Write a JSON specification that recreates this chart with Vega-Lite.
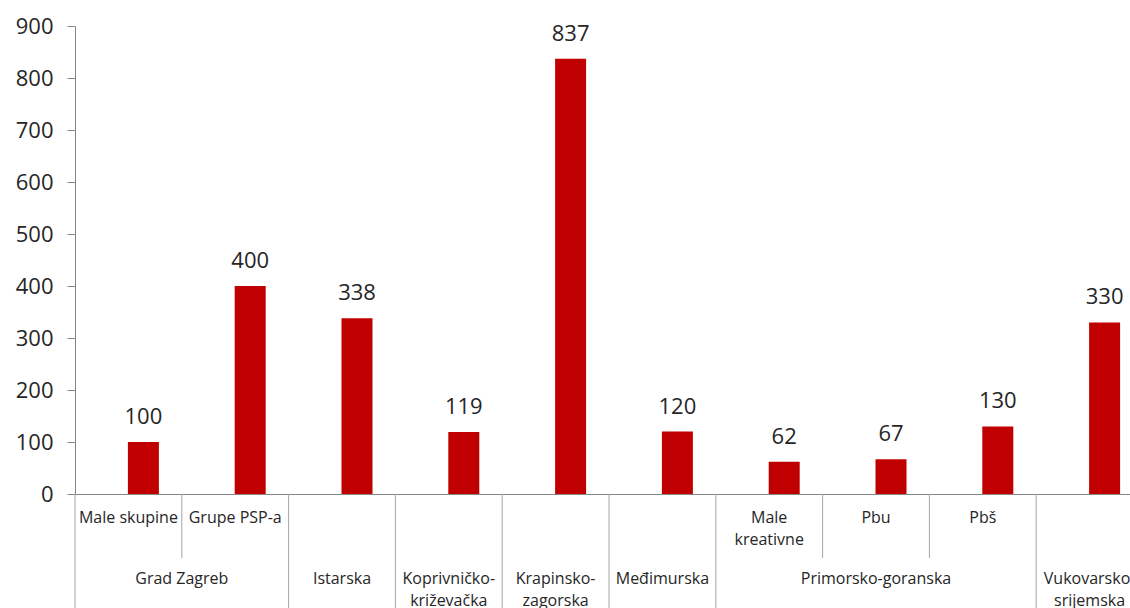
{
  "$schema": "https://vega.github.io/schema/vega-lite/v6.json",
  "autosize": "none",
  "width": 1055,
  "height": 468,
  "padding": {"left": 75, "top": 26, "right": 0, "bottom": 114},
  "background": "white",
  "config": {
    "view": {"stroke": null},
    "font": "Open Sans",
    "text": {"font": "Open Sans"}
  },
  "datasets": {
    "bars": [
      {"k": "Grad Zagreb|Male skupine", "sub": "Male skupine", "value": 100, "edge": "outer"},
      {"k": "Grad Zagreb|Grupe PSP-a", "sub": "Grupe PSP-a", "value": 400, "edge": "inner"},
      {"k": "Istarska", "sub": "", "value": 338, "edge": "outer"},
      {"k": "Koprivničko-križevačka", "sub": "", "value": 119, "edge": "outer"},
      {"k": "Krapinsko-zagorska", "sub": "", "value": 837, "edge": "outer"},
      {"k": "Međimurska", "sub": "", "value": 120, "edge": "outer"},
      {"k": "Primorsko-goranska|Male kreativne", "sub": "Male\nkreativne", "value": 62, "edge": "outer"},
      {"k": "Primorsko-goranska|Pbu", "sub": "Pbu", "value": 67, "edge": "inner"},
      {"k": "Primorsko-goranska|Pbš", "sub": "Pbš", "value": 130, "edge": "inner"},
      {"k": "Vukovarsko-srijemska", "sub": "", "value": 330, "edge": "outer"}
    ],
    "groups": [
      {"group": "Grad Zagreb", "anchor": "Grad Zagreb|Male skupine", "mode": "edge"},
      {"group": "Istarska", "anchor": "Istarska", "mode": "center"},
      {"group": "Koprivničko-\nkriževačka", "anchor": "Koprivničko-križevačka", "mode": "center"},
      {"group": "Krapinsko-\nzagorska", "anchor": "Krapinsko-zagorska", "mode": "center"},
      {"group": "Međimurska", "anchor": "Međimurska", "mode": "center"},
      {"group": "Primorsko-goranska", "anchor": "Primorsko-goranska|Pbu", "mode": "center"},
      {"group": "Vukovarsko-\nsrijemska", "anchor": "Vukovarsko-srijemska", "mode": "center"}
    ]
  },
  "layer": [
    {
      "data": {"name": "bars"},
      "mark": {"type": "bar", "color": "#C00000", "width": 31, "xOffset": 15},
      "encoding": {
        "x": {
          "field": "k", "type": "nominal",
          "scale": {
            "domain": ["Grad Zagreb|Male skupine", "Grad Zagreb|Grupe PSP-a", "Istarska", "Koprivničko-križevačka", "Krapinsko-zagorska", "Međimurska", "Primorsko-goranska|Male kreativne", "Primorsko-goranska|Pbu", "Primorsko-goranska|Pbš", "Vukovarsko-srijemska"],
            "range": [0, 1068],
            "paddingInner": 0,
            "paddingOuter": 0
          },
          "axis": {"labels": false, "ticks": false, "title": null, "domainColor": "#868686", "domainWidth": 1}
        },
        "y": {
          "field": "value", "type": "quantitative",
          "scale": {"domain": [0, 900], "nice": false},
          "axis": {
            "title": null, "grid": false, "values": [0, 100, 200, 300, 400, 500, 600, 700, 800, 900],
            "domainColor": "#868686", "tickColor": "#868686", "tickSize": 8,
            "labelFont": "Open Sans", "labelFontSize": 22, "labelColor": "#262626", "labelPadding": 14
          }
        }
      }
    },
    {
      "data": {"name": "bars"},
      "mark": {"type": "text", "xOffset": 15, "dy": -18, "baseline": "alphabetic", "fontSize": 22, "color": "#262626", "font": "Open Sans"},
      "encoding": {
        "x": {"field": "k", "type": "nominal"},
        "y": {"field": "value", "type": "quantitative"},
        "text": {"field": "value", "type": "quantitative"}
      }
    },
    {
      "data": {"name": "bars"},
      "transform": [{"filter": "datum.edge === 'outer'"}],
      "mark": {"type": "rule", "color": "#A6A6A6", "strokeWidth": 1},
      "encoding": {
        "x": {"field": "k", "type": "nominal", "bandPosition": 0},
        "y": {"datum": 0, "type": "quantitative"},
        "y2": {"datum": -260}
      }
    },
    {
      "data": {"name": "bars"},
      "transform": [{"filter": "datum.edge === 'inner'"}],
      "mark": {"type": "rule", "color": "#A6A6A6", "strokeWidth": 1},
      "encoding": {
        "x": {"field": "k", "type": "nominal", "bandPosition": 0},
        "y": {"datum": 0, "type": "quantitative"},
        "y2": {"datum": -123}
      }
    },
    {
      "data": {"name": "bars"},
      "transform": [{"filter": "datum.sub !== ''"}],
      "mark": {"type": "text", "baseline": "top", "dy": 16, "fontSize": 16, "lineBreak": "\n", "lineHeight": 22, "color": "#262626", "font": "Open Sans"},
      "encoding": {
        "x": {"field": "k", "type": "nominal"},
        "y": {"datum": 0, "type": "quantitative"},
        "text": {"field": "sub"}
      }
    },
    {
      "data": {"name": "groups"},
      "transform": [{"filter": "datum.mode === 'center'"}],
      "mark": {"type": "text", "baseline": "top", "dy": 77, "fontSize": 16, "lineBreak": "\n", "lineHeight": 22, "color": "#262626", "font": "Open Sans"},
      "encoding": {
        "x": {"field": "anchor", "type": "nominal"},
        "y": {"datum": 0, "type": "quantitative"},
        "text": {"field": "group"}
      }
    },
    {
      "data": {"name": "groups"},
      "transform": [{"filter": "datum.mode === 'edge'"}],
      "mark": {"type": "text", "baseline": "top", "dy": 77, "fontSize": 16, "lineBreak": "\n", "lineHeight": 22, "color": "#262626", "font": "Open Sans"},
      "encoding": {
        "x": {"field": "anchor", "type": "nominal", "bandPosition": 1},
        "y": {"datum": 0, "type": "quantitative"},
        "text": {"field": "group"}
      }
    }
  ]
}
